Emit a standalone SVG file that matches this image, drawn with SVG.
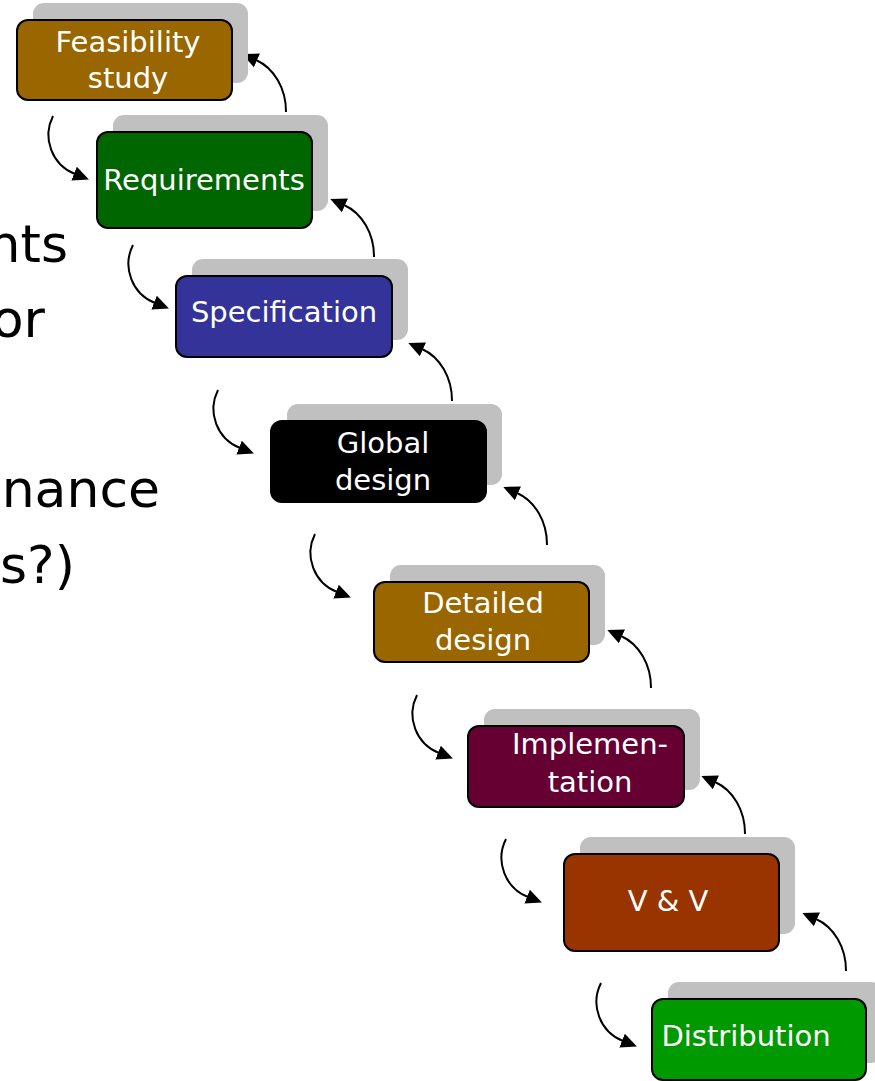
<svg xmlns="http://www.w3.org/2000/svg" width="875" height="1081" viewBox="0 0 875 1081">
  <defs>
    <style>
      .shadow { fill: #C0C0C0; }
      .box { stroke: #000; stroke-width: 2; }
      .label { font-family: "DejaVu Sans", "Liberation Sans", sans-serif; font-size: 29px; fill: #fff; text-anchor: middle; }
      .side { font-family: "DejaVu Sans", "Liberation Sans", sans-serif; font-size: 52px; fill: #000; text-anchor: end; }
      .arc { fill: none; stroke: #000; stroke-width: 2; marker-end: url(#head); }
    </style>
    <marker id="head" markerUnits="userSpaceOnUse" markerWidth="18" markerHeight="18" viewBox="0 -9 18 18" refX="1" refY="0" orient="auto">
      <path d="M0,-7.5 L16,0 L0,7.5 z" fill="#000"/>
    </marker>
  </defs>

  <rect width="875" height="1081" fill="#fff"/>

  <!-- slide text running off the left edge -->
  <g id="side-text">
    <text class="side" x="68" y="262">nts</text>
    <text class="side" x="45" y="337">or</text>
    <text class="side" x="160" y="507">nance</text>
    <text class="side" x="75" y="583">s?)</text>
  </g>

  <!-- connectors: forward steps on the left, feedback on the right -->
  <g id="connectors">
    <path class="arc" d="M53,116 A42,42 0 0,0 75,174"/>
    <path class="arc" d="M133,245 A42,42 0 0,0 155,303"/>
    <path class="arc" d="M218,390 A42,42 0 0,0 240,448"/>
    <path class="arc" d="M315,534 A42,42 0 0,0 337,592"/>
    <path class="arc" d="M417,695 A42,42 0 0,0 439,753"/>
    <path class="arc" d="M506,839 A42,42 0 0,0 528,897"/>
    <path class="arc" d="M601,983 A42,42 0 0,0 623,1041"/>

    <path class="arc" d="M286,112 A46,55 0 0,0 256,60"/>
    <path class="arc" d="M374,257 A46,55 0 0,0 344,205"/>
    <path class="arc" d="M452,401 A46,55 0 0,0 422,349"/>
    <path class="arc" d="M547,545 A46,55 0 0,0 517,493"/>
    <path class="arc" d="M651,688 A46,55 0 0,0 621,636"/>
    <path class="arc" d="M745,834 A46,55 0 0,0 715,782"/>
    <path class="arc" d="M846,971 A46,55 0 0,0 816,919"/>
  </g>

  <g id="feasibility">
    <rect class="shadow" x="33" y="3" width="215" height="80" rx="11"/>
    <rect class="box" x="17" y="20" width="215" height="80" rx="11" fill="#996600"/>
    <text class="label" x="128" y="52">Feasibility</text>
    <text class="label" x="128" y="88">study</text>
  </g>

  <g id="requirements">
    <rect class="shadow" x="113" y="115" width="215" height="96" rx="11"/>
    <rect class="box" x="97" y="132" width="215" height="96" rx="11" fill="#006600"/>
    <text class="label" x="204" y="190">Requirements</text>
  </g>

  <g id="specification">
    <rect class="shadow" x="192" y="259" width="216" height="81" rx="11"/>
    <rect class="box" x="176" y="276" width="216" height="81" rx="11" fill="#333399"/>
    <text class="label" x="284" y="322">Specification</text>
  </g>

  <g id="global-design">
    <rect class="shadow" x="287" y="404" width="215" height="81" rx="11"/>
    <rect class="box" x="271" y="421" width="215" height="81" rx="11" fill="#000000"/>
    <text class="label" x="383" y="453">Global</text>
    <text class="label" x="383" y="490">design</text>
  </g>

  <g id="detailed-design">
    <rect class="shadow" x="390" y="565" width="215" height="80" rx="11"/>
    <rect class="box" x="374" y="582" width="215" height="80" rx="11" fill="#996600"/>
    <text class="label" x="483" y="613">Detailed</text>
    <text class="label" x="483" y="650">design</text>
  </g>

  <g id="implementation">
    <rect class="shadow" x="484" y="709" width="216" height="81" rx="11"/>
    <rect class="box" x="468" y="726" width="216" height="81" rx="11" fill="#660033"/>
    <text class="label" x="590" y="754">Implemen-</text>
    <text class="label" x="590" y="792">tation</text>
  </g>

  <g id="v-and-v">
    <rect class="shadow" x="580" y="837" width="215" height="97" rx="11"/>
    <rect class="box" x="564" y="854" width="215" height="97" rx="11" fill="#993300"/>
    <text class="label" x="668" y="911">V &amp; V</text>
  </g>

  <g id="distribution">
    <rect class="shadow" x="668" y="982" width="214" height="81" rx="11"/>
    <rect class="box" x="652" y="999" width="214" height="81" rx="11" fill="#009900"/>
    <text class="label" x="746" y="1046">Distribution</text>
  </g>
</svg>
